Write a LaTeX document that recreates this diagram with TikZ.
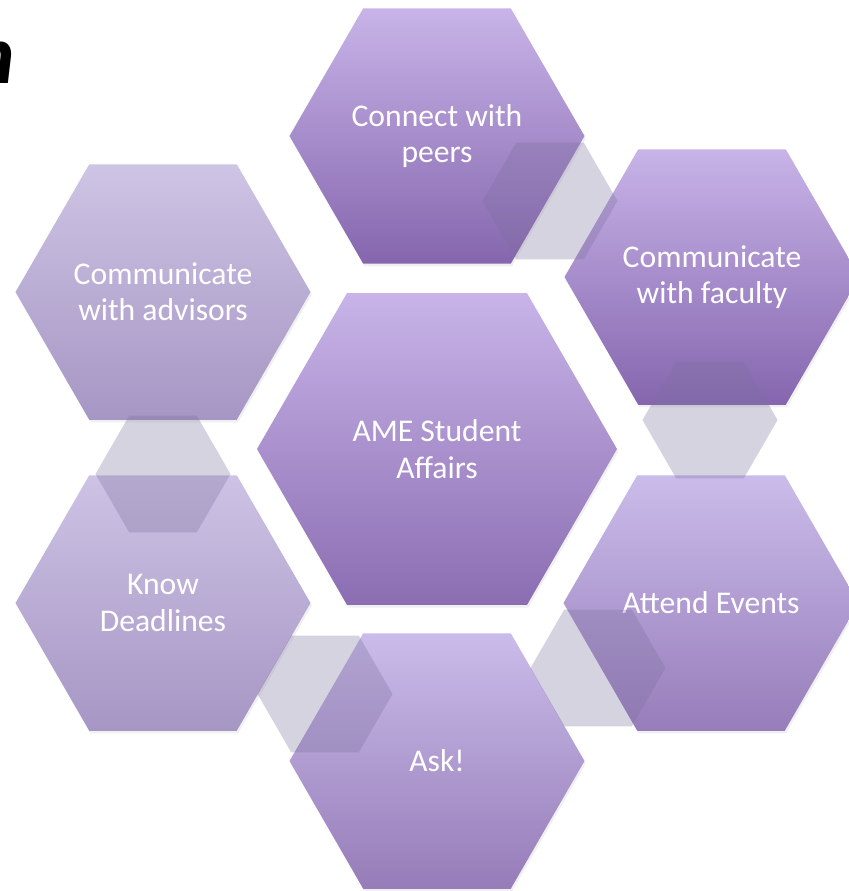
\documentclass[tikz,border=0pt]{standalone}
\usepackage{fontspec}
\setmainfont{Carlito}
\usetikzlibrary{shapes.geometric,shadows}

\definecolor{linkgray}{RGB}{124,112,158}
\definecolor{deepTop}{RGB}{200,180,232}
\definecolor{deepBot}{RGB}{133,102,174}
\definecolor{midTop}{RGB}{202,188,234}
\definecolor{midBot}{RGB}{150,124,184}
\definecolor{paleTop}{RGB}{206,196,228}
\definecolor{paleBot}{RGB}{166,150,196}

\tikzset{
	hexa/.style={
		regular polygon,regular polygon sides=6,
		inner sep=0pt,outer sep=0pt,minimum size=8.85cm,
		text=white,align=center,font=\fontsize{27}{31}\selectfont,
		drop shadow={opacity=.12,shadow xshift=.04cm,shadow yshift=-.08cm}
	},
	hexlink/.style={
		regular polygon,regular polygon sides=6,
		inner sep=0pt,outer sep=0pt,minimum size=4.05cm,
		fill=linkgray,fill opacity=.31
	},
}

\begin{document}
\begin{tikzpicture}[x=.03cm,y=-.03cm]
	\useasboundingbox (0,0) rectangle (849,891);
	% outer ring
	\node[hexa,top color=deepTop,bottom color=deepBot] (peers) at (437,136) {Connect with\\peers};
	\node[hexa,top color=deepTop,bottom color=deepBot] (faculty) at (712,277) {Communicate\\with faculty};
	\node[hexa,top color=midTop,bottom color=deepBot!85!white] (events) at (711,603) {Attend Events};
	\node[hexa,top color=midTop,bottom color=midBot] (ask) at (437,761) {Ask!};
	\node[hexa,top color=paleTop!90!deepTop,bottom color=paleBot] (deadlines) at (163,603) {Know\\Deadlines};
	\node[hexa,top color=paleTop,bottom color=paleBot] (advisors) at (163,292) {Communicate\\with advisors};
	% centre
	\node[hexa,minimum size=10.8cm,top color=deepTop,bottom color=deepBot!95!white] (ame) at (437,449) {AME Student\\Affairs};
	% links
	\node[hexlink] (peersFaculty) at (550,201) {};
	\node[hexlink] (facultyEvents) at (710,420) {};
	\node[hexlink] (eventsAsk) at (598,668) {};
	\node[hexlink] (askDeadlines) at (325,694) {};
	\node[hexlink] (deadlinesAdvisors) at (163,474) {};
	% cut title
	\node[anchor=base east,inner sep=0pt,font=\fontsize{72}{74}\selectfont\bfseries\itshape] (title) at (15,83) {n};
\end{tikzpicture}
\end{document}
